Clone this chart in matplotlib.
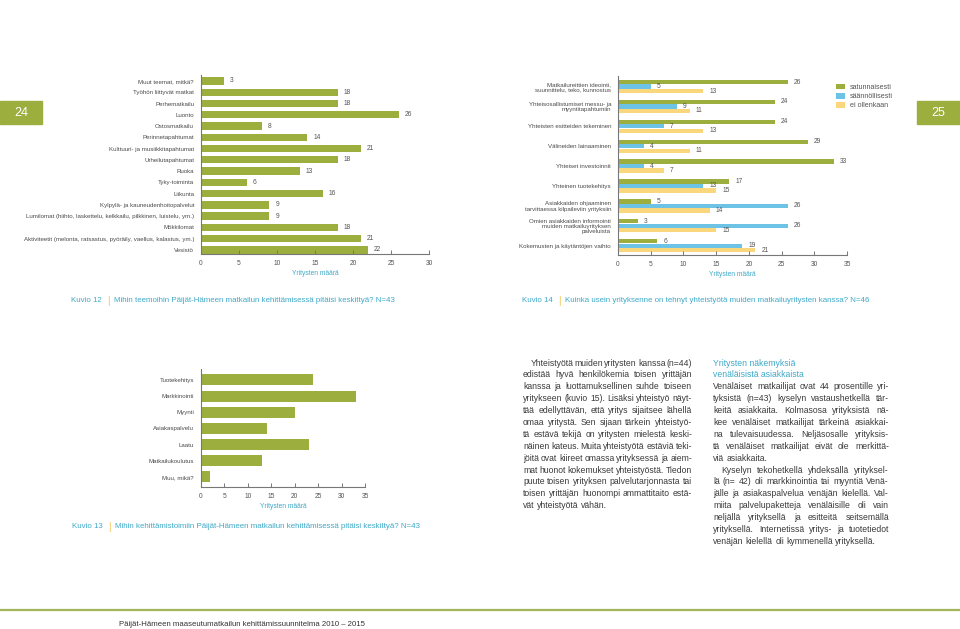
import matplotlib
matplotlib.use("Agg")
import matplotlib.pyplot as plt
import matplotlib.font_manager as fm
from matplotlib.font_manager import FontProperties
from matplotlib.patches import Rectangle
from matplotlib.lines import Line2D
import numpy as np

# ---------------- data ----------------
k12_categories = ["Muut teemat, mitkä?", "Työhön liittyvät matkat", "Perhematkailu", "Luonto",
                  "Ostosmatkailu", "Perinnetapahtumat", "Kulttuuri- ja musiikkitapahtumat",
                  "Urheilutapahtumat", "Ruoka", "Tyky-toiminta", "Liikunta",
                  "Kylpylä- ja kauneudenhoitopalvelut",
                  "Lumilomat (hiihto, laskettelu, kelkkailu, pilkkinen, luistelu, ym.)",
                  "Mökkilomat",
                  "Aktiviteetit (melonta, ratsastus, pyöräily, vaellus, kalastus, ym.)",
                  "Vesistö"]
k12_values = [3, 18, 18, 26, 8, 14, 21, 18, 13, 6, 16, 9, 9, 18, 21, 22]

k14_categories = ["Matkailureittien ideointi,\nsuunnittelu, teko, kunnostus",
                  "Yhteisosallistumiset messu- ja\nmyyntitapahtumiin",
                  "Yhteisten esitteiden tekeminen",
                  "Välineiden lainaaminen",
                  "Yhteiset investoinnit",
                  "Yhteinen tuotekehitys",
                  "Asiakkaiden ohjaaminen\ntarvittaessa kilpaileviin yrityksiin",
                  "Omien asiakkaiden informointi\nmuiden matkailuyrityksen\npalveluista",
                  "Kokemusten ja käytäntöjen vaihto"]
k14_series = ["satunnaisesti", "säännöllisesti", "ei ollenkaan"]
k14_satunnaisesti = [26, 24, 24, 29, 33, 17, 5, 3, 6]
k14_saannollisesti = [5, 9, 7, 4, 4, 13, 26, 26, 19]
k14_ei_ollenkaan = [13, 11, 13, 11, 7, 15, 14, 15, 21]

k13_categories = ["Tuotekehitys", "Markkinointi", "Myynti", "Asiakaspalvelu", "Laatu",
                  "Matkailukoulutus", "Muu, mikä?"]
k13_values = [24, 33, 20, 14, 23, 13, 2]

axis_label = "Yritysten määrä"

caption12 = ("Kuvio 12", "Mihin teemoihin Päijät-Hämeen matkailun kehittämisessä pitäisi keskittyä? N=43")
caption14 = ("Kuvio 14", "Kuinka usein yrityksenne on tehnyt yhteistyötä muiden matkailuyritysten kanssa? N=46")
caption13 = ("Kuvio 13", "Mihin kehittämistoimiin Päijät-Hämeen matkailun kehittämisessä pitäisi keskittyä? N=43")

col1_lines = [
    "Yhteistyötä muiden yritysten kanssa (n=44)",
    "edistää hyvä henkilökemia toisen yrittäjän",
    "kanssa ja luottamuksellinen suhde toiseen",
    "yritykseen (kuvio 15). Lisäksi yhteistyö näyt-",
    "tää edellyttävän, että yritys sijaitsee lähellä",
    "omaa yritystä. Sen sijaan tärkein yhteistyö-",
    "tä estävä tekijä on yritysten mielestä keski-",
    "näinen kateus. Muita yhteistyötä estäviä teki-",
    "jöitä ovat kiireet omassa yrityksessä ja aiem-",
    "mat huonot kokemukset yhteistyöstä. Tiedon",
    "puute toisen yrityksen palvelutarjonnasta tai",
    "toisen yrittäjän huonompi ammattitaito estä-",
    "vät yhteistyötä vähän.",
]
col2_heading = ["Yritysten näkemyksiä", "venäläisistä asiakkaista"]
col2_lines = [
    "Venäläiset matkailijat ovat 44 prosentille yri-",
    "tyksistä (n=43) kyselyn vastaushetkellä tär-",
    "keitä asiakkaita. Kolmasosa yrityksistä nä-",
    "kee venäläiset matkailijat tärkeinä asiakkai-",
    "na tulevaisuudessa. Neljäsosalle yrityksis-",
    "tä venäläiset matkailijat eivät ole merkittä-",
    "viä asiakkaita.",
    "Kyselyn tekohetkellä yhdeksällä yrityksel-",
    "lä (n= 42) oli markkinointia tai myyntiä Venä-",
    "jälle ja asiakaspalvelua venäjän kielellä. Val-",
    "miita palvelupaketteja venäläisille oli vain",
    "neljällä yrityksellä ja esitteitä seitsemällä",
    "yrityksellä. Internetissä yritys- ja tuotetiedot",
    "venäjän kielellä oli kymmenellä yrityksellä.",
]
footer_text = "Päijät-Hämeen maaseutumatkailun kehittämissuunnitelma 2010 – 2015"

# ---------------- style ----------------
names = {f.name for f in fm.fontManager.ttflist}
FONT = "Liberation Sans Narrow" if "Liberation Sans Narrow" in names else "Liberation Sans"
plt.rcParams["font.family"] = [FONT, "DejaVu Sans"]

GREEN = "#9cae3e"
BLUE = "#6cc3e6"
YELLOW = "#fad77c"
TEAL = "#3fa9c8"
SEP = "#f2c24a"
TXT = "#555555"
AX = "#777777"

W, H = 960, 629
fig = plt.figure(figsize=(9.6, 6.29), dpi=100)
fig.patch.set_facecolor("white")


def rect(x0, yt, x1, yb):
    return [x0 / W, 1 - yb / H, (x1 - x0) / W, (yb - yt) / H]


def fx(x):
    return x / W


def fy(y):
    return 1 - y / H


LABEL_FS = 4.4
TICK_FS = 4.8


def style(ax, xmax, step):
    ax.set_xlim(0, xmax)
    ax.set_xticks(range(0, xmax + 1, step))
    ax.set_facecolor("none")
    for s in ["top", "right"]:
        ax.spines[s].set_visible(False)
    for s in ["left", "bottom"]:
        ax.spines[s].set_color(AX)
        ax.spines[s].set_linewidth(0.8)
    ax.tick_params(axis="x", direction="in", length=3, width=0.7, color=AX,
                   labelsize=TICK_FS, labelcolor=TXT, pad=4)
    ax.tick_params(axis="y", length=0, labelsize=LABEL_FS, labelcolor="#4a4a4a", pad=5)
    ax.set_xlabel(axis_label, color=TEAL, fontsize=TICK_FS, labelpad=2.5)


# ---------------- Kuvio 12 ----------------
ax1 = fig.add_axes(rect(201, 75, 429, 254))
n1 = len(k12_values)
y1 = np.arange(n1)
ax1.barh(y1, k12_values, height=0.65, color=GREEN)
ax1.set_yticks(y1)
ax1.set_yticklabels(k12_categories)
ax1.set_ylim(n1 - 1 + 0.36, -0.53)
style(ax1, 30, 5)
for yi, v in zip(y1, k12_values):
    ax1.annotate(str(v), (v, yi), xytext=(6, 0), textcoords="offset pixels",
                 va="center", ha="left", fontsize=TICK_FS, color=TXT)

# ---------------- Kuvio 14 ----------------
ax2 = fig.add_axes(rect(618, 76, 847, 255))
n2 = len(k14_categories)
g = np.arange(n2)
step = 0.226
bh = 0.215
series_vals = [k14_satunnaisesti, k14_saannollisesti, k14_ei_ollenkaan]
series_cols = [GREEN, BLUE, YELLOW]
for k, (vals, col, name) in enumerate(zip(series_vals, series_cols, k14_series)):
    yy = g + (k - 1) * step
    ax2.barh(yy, vals, height=bh, color=col, label=name)
    for yi, v in zip(yy, vals):
        ax2.annotate(str(v), (v, yi), xytext=(6, 0), textcoords="offset pixels",
                     va="center", ha="left", fontsize=TICK_FS, color=TXT)
ax2.set_yticks(g)
ax2.set_yticklabels(k14_categories, linespacing=1.05)
ax2.set_ylim(n2 - 1 + 0.47, -0.53)
style(ax2, 35, 5)
ax2.legend(loc="upper left", bbox_to_anchor=(fx(832), fy(80)), bbox_transform=fig.transFigure,
           frameon=False, fontsize=TICK_FS + 0.3, handlelength=1.4, handleheight=0.9,
           labelspacing=0.25, handletextpad=0.6, borderpad=0, labelcolor=TXT)

# ---------------- Kuvio 13 ----------------
ax3 = fig.add_axes(rect(201, 369, 365, 487))
n3 = len(k13_values)
y3 = np.arange(n3)
ax3.barh(y3, k13_values, height=0.68, color=GREEN)
ax3.set_yticks(y3)
ax3.set_yticklabels(k13_categories)
ax3.set_ylim(n3 - 1 + 0.62, -0.68)
style(ax3, 35, 5)

# ---------------- page decorations ----------------
fig.patches.append(Rectangle((0, fy(124)), fx(42), 23 / H, transform=fig.transFigure,
                             color=GREEN, zorder=0))
fig.patches.append(Rectangle((fx(917), fy(124)), fx(43), 23 / H, transform=fig.transFigure,
                             color=GREEN, zorder=0))
fig.text(fx(21), fy(112.5), "24", color="white", fontsize=9, ha="center", va="center")
fig.text(fx(938.5), fy(112.5), "25", color="white", fontsize=9, ha="center", va="center")

fig.lines.append(Line2D([0, 1], [fy(610), fy(610)], transform=fig.transFigure,
                        color="#a3b55a", linewidth=1.6))
fig.text(fx(119), fy(623), footer_text, fontsize=5.6, color="#333333", ha="left",
         va="center_baseline")

renderer = fig.canvas.get_renderer()


def tw(s, fs):
    w, h, d = renderer.get_text_width_height_descent(
        s, FontProperties(family=[FONT, "DejaVu Sans"], size=fs), ismath=False)
    return w


CAP_FS = 5.7


def caption(x, y, cap):
    label, question = cap
    fig.text(fx(x), fy(y), label, fontsize=CAP_FS, color=TEAL, va="center_baseline")
    x2 = x + tw(label, CAP_FS) + 5
    fig.text(fx(x2), fy(y), "|", fontsize=CAP_FS + 1.5, color=SEP, va="center_baseline")
    x3 = x2 + tw("|", CAP_FS + 1.5) + 5
    fig.text(fx(x3), fy(y), question, fontsize=CAP_FS, color=TEAL, va="center_baseline")


caption(71, 300, caption12)
caption(522, 300, caption14)
caption(72, 526, caption13)

BODY_FS = 6.2
LH = 11.9


def justify_block(lines, x0, x1, y0, color, indent_idx=(), last_idx=()):
    for i, line in enumerate(lines):
        y = y0 + i * LH
        xs = x0 + (8 if i in indent_idx else 0)
        words = line.split(" ")
        widths = [tw(w_, BODY_FS) for w_ in words]
        space = tw("a b", BODY_FS) - tw("ab", BODY_FS)
        if i in last_idx or len(words) == 1:
            gap = space
        else:
            gap = (x1 - xs - sum(widths)) / (len(words) - 1)
            gap = max(gap, space * 0.4)
        x = xs
        for wd, wdt in zip(words, widths):
            fig.text(fx(x), fy(y), wd, fontsize=BODY_FS, color=color, va="center_baseline")
            x += wdt + gap


justify_block(col1_lines, 523, 692, 362, "#3a3a3a", indent_idx=(0,), last_idx=(len(col1_lines) - 1,))
for i, h in enumerate(col2_heading):
    fig.text(fx(713), fy(362 + i * LH), h, fontsize=BODY_FS, color=TEAL, va="center_baseline")
justify_block(col2_lines, 713, 889, 362 + 2 * LH, "#3a3a3a", indent_idx=(7,),
              last_idx=(6, len(col2_lines) - 1))

fig.savefig("out.png", dpi=100, facecolor="white")
